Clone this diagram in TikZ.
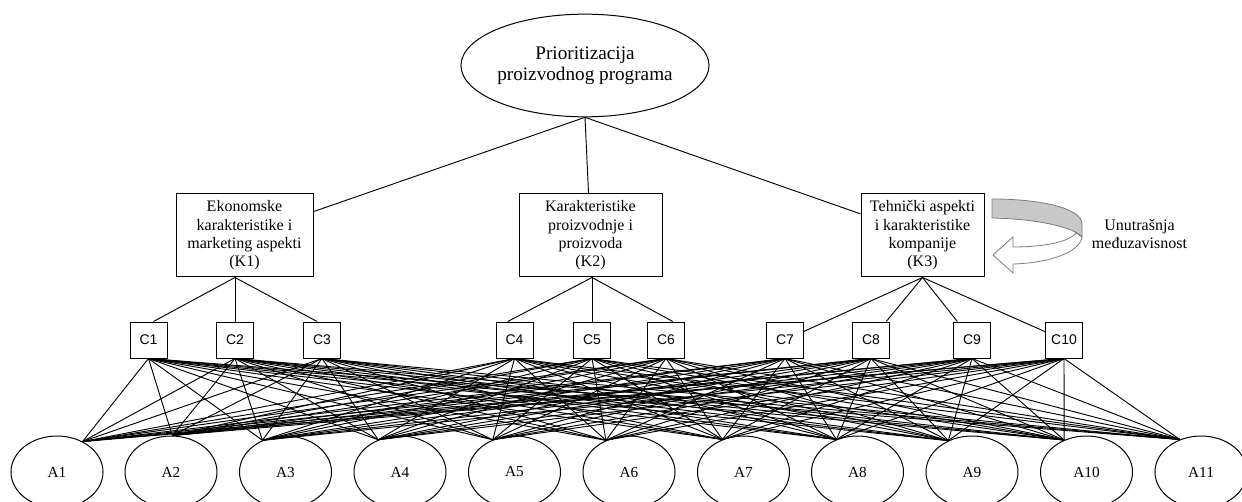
\documentclass[tikz,border=0pt]{standalone}
\usepackage{fontspec}
\setmainfont{Liberation Serif}
\newfontfamily\critfont{Liberation Sans}
\usetikzlibrary{shapes.geometric}
\definecolor{bandgray}{RGB}{200,200,200}
\definecolor{edgegray}{RGB}{125,125,125}

\begin{document}
\begin{tikzpicture}[
x=0.75pt, y=-0.75pt,
goalnode/.style={ellipse, draw, line width=0.75pt, minimum width=162.5pt, minimum height=77pt, inner sep=0pt, align=center, font=\fontsize{14.4pt}{16.1pt}\selectfont},
groupnode/.style={rectangle, draw, line width=0.75pt, minimum height=62.25pt, inner sep=0pt, align=center, font=\fontsize{12pt}{13.8pt}\selectfont},
critnode/.style={rectangle, draw, line width=0.75pt, minimum width=27.75pt, minimum height=27pt, inner sep=0pt, font=\critfont\fontsize{10.5pt}{12pt}\selectfont},
altnode/.style={ellipse, draw, line width=0.75pt, minimum width=69pt, minimum height=54pt, inner sep=0pt, font=\fontsize{11.5pt}{13pt}\selectfont},
link/.style={line width=0.7pt}
]
    \useasboundingbox (0,0) rectangle (1242,502);

    \node [goalnode] (g) at (585,65.5) {Prioritizacija\\proizvodnog programa};

    \node [groupnode,minimum width=102.75pt] (k1) at (244.5,235.5) {Ekonomske\\karakteristike i\\marketing aspekti\\(K1)};
    \node [groupnode,minimum width=107.25pt] (k2) at (590.5,235.5) {Karakteristike\\proizvodnje i\\proizvoda\\(K2)};
    \node [groupnode,minimum width=92.25pt] (k3) at (922.5,235.5) {Tehnički aspekti\\i karakteristike\\kompanije\\(K3)};

    \node [critnode] (c1) at (148.5,340) {C1};
    \node [critnode] (c2) at (235,340) {C2};
    \node [critnode] (c3) at (322,340) {C3};
    \node [critnode] (c4) at (514.5,340) {C4};
    \node [critnode] (c5) at (592,340) {C5};
    \node [critnode] (c6) at (666,340) {C6};
    \node [critnode] (c7) at (785,340) {C7};
    \node [critnode] (c8) at (871,340) {C8};
    \node [critnode] (c9) at (972,340) {C9};
    \node [critnode] (c10) at (1064,340) {C10};

    \node [altnode] (a1) at (57,472) {A1};
    \node [altnode] (a2) at (171,472) {A2};
    \node [altnode] (a3) at (285.5,472) {A3};
    \node [altnode] (a4) at (400,472) {A4};
    \node [altnode] (a5) at (514.5,472) {A5};
    \node [altnode] (a6) at (629,472) {A6};
    \node [altnode] (a7) at (743.5,472) {A7};
    \node [altnode] (a8) at (857.5,472) {A8};
    \node [altnode] (a9) at (972,472) {A9};
    \node [altnode] (a10) at (1086.5,472) {A10};
    \node [altnode] (a11) at (1201,472) {A11};

    \node [align=center, font=\fontsize{12pt}{13.8pt}\selectfont] (note) at (1139.5,234) {Unutrašnja\\međuzavisnost};

    \draw [link] (g.south) edge (k1);
    \draw [link] (g.south) edge (k2);
    \draw [link] (g.south) edge (k3);

    \draw [link] (k1.south -| c2) edge (c1.75);
    \draw [link] (k1.south -| c2) edge (c2);
    \draw [link] (k1.south -| c2) edge (c3.105);
    \draw [link] (k2.south -| c5) edge (c4.110);
    \draw [link] (k2.south -| c5) edge (c5);
    \draw [link] (k2.south -| c5) edge (c6.70);
    \draw [link] (k3.south) edge (c7);
    \draw [link] (k3.south) edge (c8);
    \draw [link] (k3.south) edge (c9);
    \draw [link] (k3.south) edge (c10);

    \foreach \c in {1,...,10}
      \foreach \a/\ang in {1/50,2/88,3/126,4/124,5/124,6/126,7/123,8/123,9/127,10/125,11/123}
        \draw [link] (c\c.south) -- (a\a.\ang);

    % curved arrow beside K3
    \draw [edgegray, fill=bandgray, line width=0.6pt]
      (992,199) .. controls (1040,199) and (1082,208) .. (1082,224)
      -- (1082,237) .. controls (1075,228) and (1040,219) .. (992,218) -- cycle;
    \draw [edgegray, fill=white, line width=0.6pt]
      (1082,237) .. controls (1080,252) and (1050,263) .. (1013,264)
      -- (1013,273) -- (993,255) -- (1013,237) -- (1013,247)
      .. controls (1040,247) and (1068,243) .. (1076,233) -- cycle;

\end{tikzpicture}
\end{document}
